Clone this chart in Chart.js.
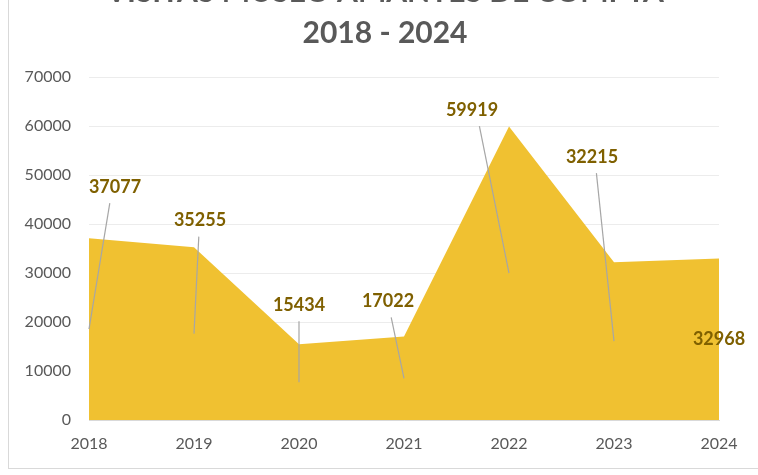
<!DOCTYPE html>
<html>
<head>
<meta charset="utf-8">
<script src="https://cdn.jsdelivr.net/npm/chart.js@4/dist/chart.umd.min.js"></script>
<style>
  html, body { margin: 0; padding: 0; background: #ffffff; }
  #wrap { width: 758px; height: 475px; position: relative; }
</style>
</head>
<body>
<div id="wrap"><canvas id="c" width="758" height="475"></canvas></div>
<script>
// ---- data ----
const years = ['2018', '2019', '2020', '2021', '2022', '2023', '2024'];
const visits = [37077, 35255, 15434, 17022, 59919, 32215, 32968];
const yTicks = [0, 10000, 20000, 30000, 40000, 50000, 60000, 70000];
const titleLines = ['VISITAS MUSEO AMANTES DE COMPTA', '2018 - 2024'];

// label placement (pixel offsets from each callout anchor, set like dragged labels)
const labelDX = [26, 6, 0, -16, -37, -22, 0];
const labelDY = [-142, -113, -77, -77, -163, -184, 0];

const FONT = 'Lato, "Open Sans", sans-serif';

const framePlugin = {
  id: 'frame',
  beforeDraw(chart) {
    const ctx = chart.ctx;
    ctx.save();
    ctx.fillStyle = '#ffffff';
    ctx.fillRect(0, 0, chart.width, chart.height);
    ctx.strokeStyle = '#d9d9d9';
    ctx.lineWidth = 1;
    ctx.strokeRect(8.5, -10.5, chart.width + 20, 479);
    // title
    ctx.fillStyle = '#595959';
    ctx.textAlign = 'center';
    ctx.textBaseline = 'middle';
    ctx.font = 'bold 30px ' + FONT;
    ctx.fillText(titleLines[0], 385, -8);
    ctx.fillText(titleLines[1], 385, 33);
    ctx.restore();
  }
};

const shadowPlugin = {
  id: 'areaShadow',
  beforeDatasetDraw(chart) {
    const ctx = chart.ctx;
    ctx.save();
    ctx.shadowColor = 'rgba(120,90,0,0.35)';
    ctx.shadowBlur = 5;
    ctx.shadowOffsetX = 0;
    ctx.shadowOffsetY = 1;
  },
  afterDatasetDraw(chart) {
    chart.ctx.restore();
  }
};

const calloutPlugin = {
  id: 'callouts',
  afterDatasetsDraw(chart) {
    const ctx = chart.ctx;
    const xs = chart.scales.x, ys = chart.scales.y;
    ctx.save();
    ctx.font = 'bold 18px ' + FONT;
    ctx.textAlign = 'center';
    ctx.textBaseline = 'middle';
    visits.forEach((v, i) => {
      const ax = xs.getPixelForValue(i);
      const ay = ys.getPixelForValue(v / 2);
      const lx = ax + labelDX[i];
      const ly = ay + labelDY[i];
      if (labelDX[i] !== 0 || labelDY[i] !== 0) {
        ctx.strokeStyle = '#a6a6a6';
        ctx.lineWidth = 1.2;
        ctx.beginPath();
        ctx.moveTo(lx + (ax - lx) * 0.2, ly + 16);
        ctx.lineTo(ax, ay);
        ctx.stroke();
      }
      ctx.fillStyle = '#7f6000';
      ctx.fillText(String(v), lx, ly);
    });
    ctx.restore();
  }
};

new Chart(document.getElementById('c'), {
  type: 'line',
  data: {
    labels: years,
    datasets: [{
      data: visits,
      fill: 'origin',
      backgroundColor: '#f0c131',
      borderColor: '#f0c131',
      borderWidth: 0,
      pointRadius: 0,
      tension: 0
    }]
  },
  options: {
    responsive: false,
    animation: false,
    events: [],
    layout: { padding: { top: 77, right: 39, bottom: 0, left: 0 } },
    plugins: { legend: { display: false }, tooltip: { enabled: false }, title: { display: false } },
    scales: {
      x: {
        type: 'category',
        offset: false,
        grid: { display: false, drawTicks: false },
        border: { display: true, color: '#d9d9d9' },
        ticks: { color: '#595959', font: { family: FONT, size: 16 }, padding: 14, maxRotation: 0, autoSkip: false },
        afterFit(scale) { scale.height = 55; }
      },
      y: {
        min: 0,
        max: 70000,
        afterBuildTicks(scale) { scale.ticks = yTicks.map(v => ({ value: v })); },
        grid: { color: '#ececec', lineWidth: 1, drawTicks: false },
        border: { display: false },
        ticks: {
          color: '#595959',
          font: { family: FONT, size: 16 },
          padding: 18,
          callback: (v) => String(v)
        },
        afterFit(scale) { scale.width = 89; }
      }
    }
  },
  plugins: [framePlugin, shadowPlugin, calloutPlugin]
});
</script>
</body>
</html>
